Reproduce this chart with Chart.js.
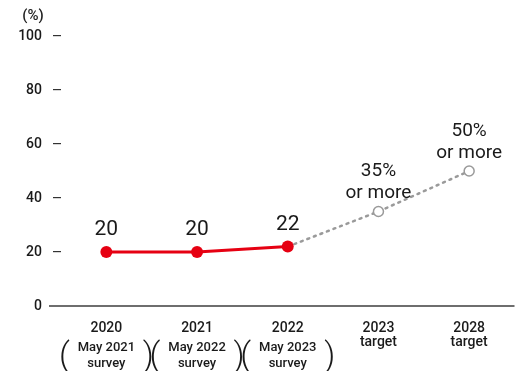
<!DOCTYPE html>
<html>
<head>
<meta charset="utf-8">
<script src="https://cdn.jsdelivr.net/npm/chart.js@4/dist/chart.umd.min.js"></script>
<style>
  html, body { margin: 0; padding: 0; background: #fff; }
  #wrap { width: 521px; height: 371px; position: relative; }
</style>
</head>
<body>
<div id="wrap"><canvas id="chart"></canvas></div>
<script>
const years = ['2020', '2021', '2022', '2023', '2028'];
const yearNotes = [null, null, null, 'target', 'target'];
const surveyNotes = [['May 2021', 'survey'], ['May 2022', 'survey'], ['May 2023', 'survey'], null, null];
const actual = [20, 20, 22, null, null];
const targets = [null, null, 22, 35, 50];
const pointLabels = [['20'], ['20'], ['22'], ['35%', 'or more'], ['50%', 'or more']];
const yTicks = [0, 20, 40, 60, 80, 100];

const FONT = 'Roboto, "DejaVu Sans", sans-serif';
const RED = '#e60012';
const GREY = '#9a9a9a';

// axis line that reaches a bit past the y tick dashes, plus the (%) unit
const axisExtras = {
  id: 'axisExtras',
  beforeDatasetsDraw(chart) {
    const ctx = chart.ctx;
    const a = chart.chartArea;
    const y0 = chart.scales.y.getPixelForValue(0);
    ctx.save();
    ctx.strokeStyle = '#6e6e6e';
    ctx.lineWidth = 2;
    ctx.beginPath();
    ctx.moveTo(a.left - 12, y0);
    ctx.lineTo(a.right, y0);
    ctx.stroke();
    ctx.fillStyle = '#222';
    ctx.font = '500 15px ' + FONT;
    ctx.textAlign = 'center';
    ctx.textBaseline = 'middle';
    ctx.fillText('(%)', 33, 16);
    ctx.restore();
  }
};

// value labels over the points and the bracketed survey notes under the years
const labelsPlugin = {
  id: 'labelsPlugin',
  afterDatasetsDraw(chart) {
    const ctx = chart.ctx;
    const x = chart.scales.x;
    ctx.save();
    ctx.fillStyle = '#1a1a1a';
    ctx.textAlign = 'center';
    ctx.textBaseline = 'middle';
    const metaA = chart.getDatasetMeta(0);
    const metaT = chart.getDatasetMeta(1);
    pointLabels.forEach((lines, i) => {
      const el = actual[i] != null ? metaA.data[i] : metaT.data[i];
      if (lines.length === 1) {
        ctx.font = '400 21px ' + FONT;
        ctx.fillText(lines[0], el.x, el.y - 22);
      } else {
        ctx.font = '400 19px ' + FONT;
        ctx.fillText(lines[0], el.x, el.y - 40);
        ctx.fillText(lines[1], el.x, el.y - 18);
      }
    });
    surveyNotes.forEach((note, i) => {
      if (!note) return;
      const cx = x.getPixelForValue(i);
      ctx.font = '500 13px ' + FONT;
      ctx.fillText(note[0], cx, 348);
      ctx.fillText(note[1], cx, 364);
      ctx.font = '300 34px ' + FONT;
      ctx.fillText('(', cx - 42, 357);
      ctx.fillText(')', cx + 42, 357);
    });
    ctx.restore();
  }
};

new Chart(document.getElementById('chart'), {
  type: 'line',
  data: {
    labels: years.map((y, i) => yearNotes[i] ? [y, yearNotes[i]] : [y]),
    datasets: [{
      data: actual,
      borderColor: RED,
      backgroundColor: RED,
      borderWidth: 3,
      pointRadius: 6,
      pointHoverRadius: 6,
      pointBorderWidth: 0,
      spanGaps: false
    }, {
      data: targets,
      borderColor: GREY,
      borderWidth: 2.5,
      borderDash: [2, 5],
      borderCapStyle: 'round',
      pointRadius: [0, 0, 0, 5, 5],
      pointBackgroundColor: '#fff',
      pointBorderColor: GREY,
      pointBorderWidth: 1.5
    }]
  },
  options: {
    responsive: true,
    maintainAspectRatio: false,
    animation: false,
    layout: { padding: { top: 36, left: 0, right: 0, bottom: 0 } },
    plugins: { legend: { display: false }, tooltip: { enabled: false } },
    scales: {
      x: {
        offset: true,
        grid: { display: false },
        border: { display: false },
        ticks: {
          color: '#1a1a1a',
          font: { family: FONT, size: 14, weight: '500', lineHeight: 1.0 },
          padding: 7,
          maxRotation: 0,
          autoSkip: false
        },
        afterFit(scale) { scale.height = 65; }
      },
      y: {
        min: 0,
        max: 100,
        afterBuildTicks(scale) { scale.ticks = yTicks.map(v => ({ value: v })); },
        grid: { drawOnChartArea: false, tickLength: 8, color: '#333', lineWidth: 1.2 },
        border: { display: false },
        ticks: {
          color: '#1a1a1a',
          font: { family: FONT, size: 14, weight: '500' },
          padding: 11
        },
        afterFit(scale) { scale.width = 61; }
      }
    }
  },
  plugins: [axisExtras, labelsPlugin]
});
</script>
</body>
</html>
